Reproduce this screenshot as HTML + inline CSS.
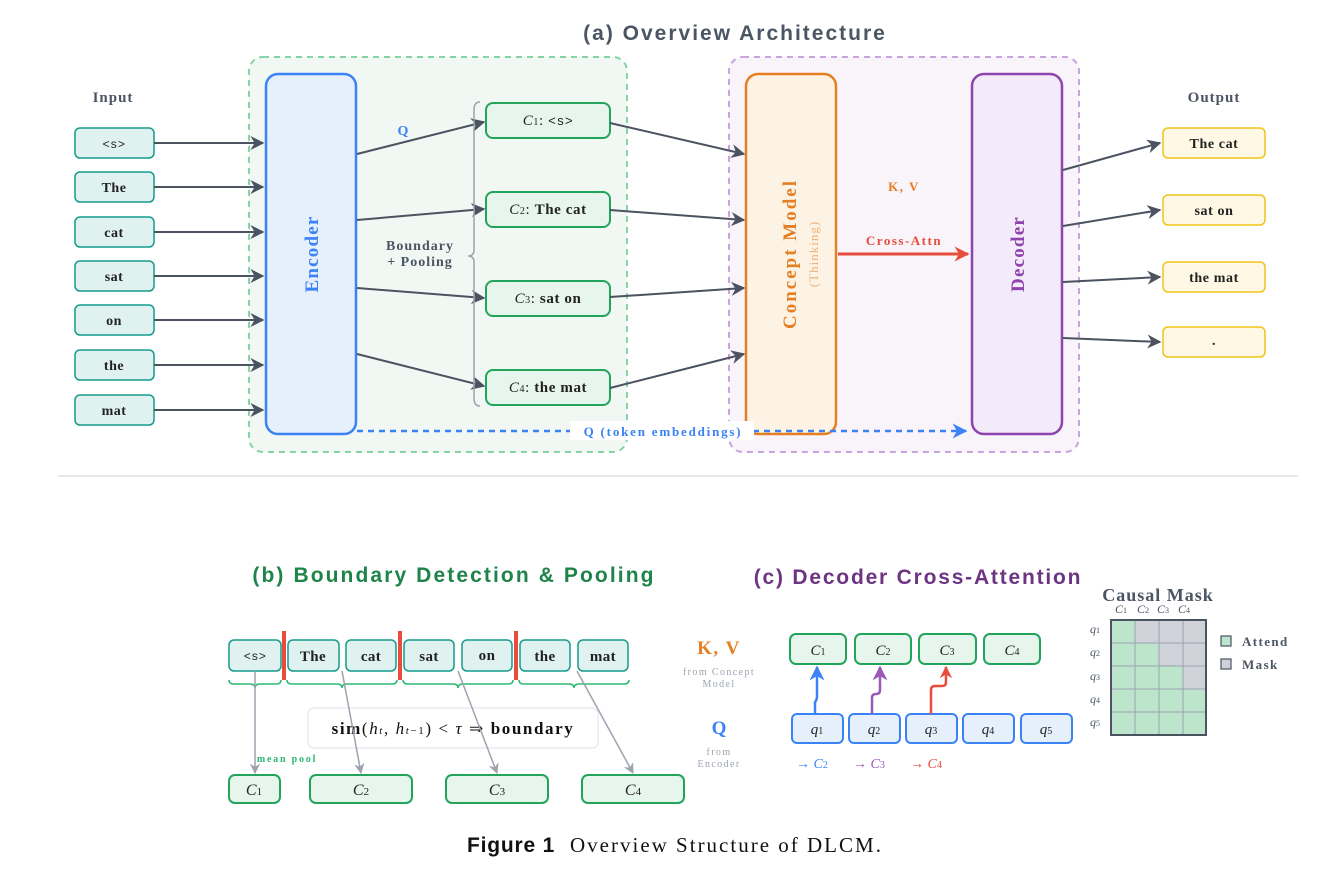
<!DOCTYPE html>
<html><head><meta charset="utf-8"><style>
html,body{margin:0;padding:0;background:#fff}
svg{display:block}
.s{font-family:"Liberation Serif",serif}
.ss{font-family:"Liberation Sans",sans-serif}
.m{font-family:"Liberation Mono",monospace}
</style></head><body>
<svg width="1344" height="872" viewBox="0 0 1344 872" xmlns="http://www.w3.org/2000/svg">
<defs>
<marker id="ag" viewBox="0 0 10 10" refX="9" refY="5" markerWidth="7" markerHeight="7" orient="auto"><path d="M0,0 L10,5 L0,10 L3,5 z" fill="#4b5260"/></marker>
<marker id="agl" viewBox="0 0 10 10" refX="9" refY="5" markerWidth="7" markerHeight="7" orient="auto"><path d="M0,0 L10,5 L0,10 L3,5 z" fill="#9ca3af"/></marker>
<marker id="ar" viewBox="0 0 10 10" refX="9" refY="5" markerWidth="5" markerHeight="5" orient="auto"><path d="M0,0 L10,5 L0,10 L3,5 z" fill="#e74c3c"/></marker>
<marker id="ab" viewBox="0 0 10 10" refX="9" refY="5" markerWidth="6" markerHeight="6" orient="auto"><path d="M0,0 L10,5 L0,10 L3,5 z" fill="#3b82f6"/></marker>
<marker id="ap" viewBox="0 0 10 10" refX="9" refY="5" markerWidth="6" markerHeight="6" orient="auto"><path d="M0,0 L10,5 L0,10 L3,5 z" fill="#9b59b6"/></marker>
</defs>

<text x="735" y="40" text-anchor="middle" class="ss" font-weight="bold" font-size="21" letter-spacing="2" fill="#4b5563">(a) Overview Architecture</text>

<rect x="249" y="57" width="378" height="395" rx="14" fill="#f1f8f4" stroke="#86d3a6" stroke-width="2" stroke-dasharray="6,5"/>
<rect x="729" y="57" width="350" height="395" rx="14" fill="#f9f3fa" stroke="#c9a3dd" stroke-width="2" stroke-dasharray="6,5"/>

<text x="113" y="102" text-anchor="middle" class="s" font-weight="bold" font-size="15" letter-spacing="1" fill="#4b5563">Input</text>
<g class="s" font-weight="bold" font-size="14" letter-spacing="0.5" fill="#222" text-anchor="middle">
<rect x="75" y="128" width="79" height="30" rx="5" fill="#dff2f0" stroke="#179a8a" stroke-width="1.5"/><text x="114" y="148" class="m" font-size="12" font-weight="normal">&lt;s&gt;</text>
<rect x="75" y="172" width="79" height="30" rx="5" fill="#dff2f0" stroke="#179a8a" stroke-width="1.5"/><text x="114" y="192">The</text>
<rect x="75" y="217" width="79" height="30" rx="5" fill="#dff2f0" stroke="#179a8a" stroke-width="1.5"/><text x="114" y="237">cat</text>
<rect x="75" y="261" width="79" height="30" rx="5" fill="#dff2f0" stroke="#179a8a" stroke-width="1.5"/><text x="114" y="281">sat</text>
<rect x="75" y="305" width="79" height="30" rx="5" fill="#dff2f0" stroke="#179a8a" stroke-width="1.5"/><text x="114" y="325">on</text>
<rect x="75" y="350" width="79" height="30" rx="5" fill="#dff2f0" stroke="#179a8a" stroke-width="1.5"/><text x="114" y="370">the</text>
<rect x="75" y="395" width="79" height="30" rx="5" fill="#dff2f0" stroke="#179a8a" stroke-width="1.5"/><text x="114" y="415">mat</text>
</g>
<g stroke="#4b5260" stroke-width="2" marker-end="url(#ag)">
<line x1="154" y1="143" x2="263" y2="143"/><line x1="154" y1="187" x2="263" y2="187"/><line x1="154" y1="232" x2="263" y2="232"/><line x1="154" y1="276" x2="263" y2="276"/><line x1="154" y1="320" x2="263" y2="320"/><line x1="154" y1="365" x2="263" y2="365"/><line x1="154" y1="410" x2="263" y2="410"/>
</g>

<rect x="266" y="74" width="90" height="360" rx="12" fill="#e6f0fd" stroke="#3b82f6" stroke-width="2.5"/>
<text transform="translate(318,254) rotate(-90)" text-anchor="middle" class="s" font-weight="bold" font-size="19" letter-spacing="1.2" fill="#3b82f6">Encoder</text>

<g stroke="#4b5260" stroke-width="2" marker-end="url(#ag)">
<line x1="357" y1="154" x2="484" y2="122"/><line x1="357" y1="220" x2="484" y2="209"/><line x1="357" y1="288" x2="484" y2="298"/><line x1="357" y1="354" x2="484" y2="386"/>
</g>
<text x="403" y="135" text-anchor="middle" class="s" font-weight="bold" font-size="14" fill="#3b82f6">Q</text>
<path d="M480,102 Q474,102 474,110 L474,250 Q474,256 468,256 Q474,256 474,262 L474,398 Q474,406 480,406" fill="none" stroke="#9ca3af" stroke-width="1.5"/>
<text x="420" y="250" text-anchor="middle" class="s" font-weight="bold" font-size="14" letter-spacing="1" fill="#4b5563">Boundary</text>
<text x="420" y="266" text-anchor="middle" class="s" font-weight="bold" font-size="14" letter-spacing="1" fill="#4b5563">+ Pooling</text>

<g class="s" font-size="15" text-anchor="middle" fill="#222" letter-spacing="0.6">
<rect x="486" y="103" width="124" height="35" rx="7" fill="#e7f6ec" stroke="#22a55a" stroke-width="2"/><text x="548" y="125"><tspan font-style="italic">C</tspan><tspan font-size="10">1</tspan>: <tspan class="m" font-size="13">&lt;s&gt;</tspan></text>
<rect x="486" y="192" width="124" height="35" rx="7" fill="#e7f6ec" stroke="#22a55a" stroke-width="2"/><text x="548" y="214"><tspan font-style="italic">C</tspan><tspan font-size="10">2</tspan>: <tspan font-weight="bold">The cat</tspan></text>
<rect x="486" y="281" width="124" height="35" rx="7" fill="#e7f6ec" stroke="#22a55a" stroke-width="2"/><text x="548" y="303"><tspan font-style="italic">C</tspan><tspan font-size="10">3</tspan>: <tspan font-weight="bold">sat on</tspan></text>
<rect x="486" y="370" width="124" height="35" rx="7" fill="#e7f6ec" stroke="#22a55a" stroke-width="2"/><text x="548" y="392"><tspan font-style="italic">C</tspan><tspan font-size="10">4</tspan>: <tspan font-weight="bold">the mat</tspan></text>
</g>
<g stroke="#4b5260" stroke-width="2" marker-end="url(#ag)">
<line x1="610" y1="123" x2="744" y2="154"/><line x1="610" y1="210" x2="744" y2="220"/><line x1="610" y1="297" x2="744" y2="288"/><line x1="610" y1="388" x2="744" y2="354"/>
</g>

<rect x="746" y="74" width="90" height="360" rx="12" fill="#fdf3e4" stroke="#e67e22" stroke-width="2.5"/>
<text transform="translate(796,254) rotate(-90)" text-anchor="middle" class="s" font-weight="bold" font-size="19" letter-spacing="2" fill="#e67e22">Concept Model</text>
<text transform="translate(818,254) rotate(-90)" text-anchor="middle" class="s" font-size="13" letter-spacing="1" fill="#f0b27a">(Thinking)</text>

<text x="904" y="191" text-anchor="middle" class="s" font-weight="bold" font-size="13" letter-spacing="1.5" fill="#e67e22">K, V</text>
<text x="904" y="245" text-anchor="middle" class="s" font-weight="bold" font-size="13" letter-spacing="1.5" fill="#e74c3c">Cross-Attn</text>
<line x1="838" y1="254" x2="968" y2="254" stroke="#e74c3c" stroke-width="3" marker-end="url(#ar)"/>

<rect x="972" y="74" width="90" height="360" rx="12" fill="#f3eafa" stroke="#8e44ad" stroke-width="2.5"/>
<text transform="translate(1024,254) rotate(-90)" text-anchor="middle" class="s" font-weight="bold" font-size="19" letter-spacing="1.2" fill="#8e44ad">Decoder</text>

<text x="1214" y="102" text-anchor="middle" class="s" font-weight="bold" font-size="15" letter-spacing="1" fill="#4b5563">Output</text>
<g class="s" font-weight="bold" font-size="14" letter-spacing="0.6" fill="#222" text-anchor="middle">
<rect x="1163" y="128" width="102" height="30" rx="5" fill="#fef8e4" stroke="#f0c419" stroke-width="1.5"/><text x="1214" y="148">The cat</text>
<rect x="1163" y="195" width="102" height="30" rx="5" fill="#fef8e4" stroke="#f0c419" stroke-width="1.5"/><text x="1214" y="215">sat on</text>
<rect x="1163" y="262" width="102" height="30" rx="5" fill="#fef8e4" stroke="#f0c419" stroke-width="1.5"/><text x="1214" y="282">the mat</text>
<rect x="1163" y="327" width="102" height="30" rx="5" fill="#fef8e4" stroke="#f0c419" stroke-width="1.5"/><text x="1214" y="345">.</text>
</g>
<g stroke="#4b5260" stroke-width="2" marker-end="url(#ag)">
<line x1="1063" y1="170" x2="1160" y2="143"/><line x1="1063" y1="226" x2="1160" y2="210"/><line x1="1063" y1="282" x2="1160" y2="277"/><line x1="1063" y1="338" x2="1160" y2="342"/>
</g>

<line x1="357" y1="431" x2="966" y2="431" stroke="#3b82f6" stroke-width="2.5" stroke-dasharray="6,5" marker-end="url(#ab)"/>
<rect x="570" y="421" width="184" height="19" fill="#fff"/>
<text x="663" y="436" text-anchor="middle" class="s" font-weight="bold" font-size="13" letter-spacing="1.8" fill="#3b82f6">Q (token embeddings)</text>

<line x1="58" y1="476" x2="1298" y2="476" stroke="#e5e7eb" stroke-width="2"/>

<!-- (b) -->
<text x="454" y="582" text-anchor="middle" class="ss" font-weight="bold" font-size="21" letter-spacing="2.1" fill="#1e8449">(b) Boundary Detection &amp; Pooling</text>
<g class="s" font-weight="bold" font-size="15" letter-spacing="0.4" fill="#222" text-anchor="middle">
<rect x="229" y="640" width="52" height="31" rx="5" fill="#dff2f0" stroke="#179a8a" stroke-width="1.5"/><text x="255" y="660" class="m" font-size="12" font-weight="normal">&lt;s&gt;</text>
<rect x="288" y="640" width="51" height="31" rx="5" fill="#dff2f0" stroke="#179a8a" stroke-width="1.5"/><text x="313" y="661">The</text>
<rect x="346" y="640" width="50" height="31" rx="5" fill="#dff2f0" stroke="#179a8a" stroke-width="1.5"/><text x="371" y="661">cat</text>
<rect x="404" y="640" width="50" height="31" rx="5" fill="#dff2f0" stroke="#179a8a" stroke-width="1.5"/><text x="429" y="661">sat</text>
<rect x="462" y="640" width="50" height="31" rx="5" fill="#dff2f0" stroke="#179a8a" stroke-width="1.5"/><text x="487" y="660">on</text>
<rect x="520" y="640" width="50" height="31" rx="5" fill="#dff2f0" stroke="#179a8a" stroke-width="1.5"/><text x="545" y="661">the</text>
<rect x="578" y="640" width="50" height="31" rx="5" fill="#dff2f0" stroke="#179a8a" stroke-width="1.5"/><text x="603" y="661">mat</text>
</g>
<g fill="#e74c3c"><rect x="282" y="631" width="4" height="49"/><rect x="398" y="631" width="4" height="49"/><rect x="514" y="631" width="4" height="49"/></g>
<g fill="none" stroke="#2eb872" stroke-width="1.5">
<path d="M229,680 Q229,684 234,684 L250,684 Q255,684 255,688 Q255,684 260,684 L276,684 Q281,684 281,680"/>
<path d="M287,680 Q287,684 292,684 L337,684 Q342,684 342,688 Q342,684 347,684 L392,684 Q397,684 397,680"/>
<path d="M403,680 Q403,684 408,684 L453,684 Q458,684 458,688 Q458,684 463,684 L508,684 Q513,684 513,680"/>
<path d="M519,680 Q519,684 524,684 L569,684 Q574,684 574,688 Q574,684 579,684 L624,684 Q629,684 629,680"/>
</g>
<rect x="308" y="708" width="290" height="40" rx="6" fill="#fff" stroke="#e5e7eb" stroke-width="1.2"/>
<text x="453" y="734" text-anchor="middle" class="s" font-size="17" letter-spacing="1.6" fill="#111"><tspan font-weight="bold">sim</tspan>(<tspan font-style="italic">h</tspan><tspan font-size="11" font-style="italic">t</tspan>, <tspan font-style="italic">h</tspan><tspan font-size="11" font-style="italic">t</tspan><tspan font-size="11">−1</tspan>) &lt; <tspan font-style="italic">τ</tspan> ⇒ <tspan font-weight="bold">boundary</tspan></text>
<g stroke="#9ca3af" stroke-width="1.5" marker-end="url(#agl)">
<line x1="255" y1="671" x2="255" y2="773"/><line x1="342" y1="671" x2="361" y2="773"/><line x1="458" y1="671" x2="497" y2="773"/><line x1="577" y1="671" x2="633" y2="773"/>
</g>
<text x="287" y="762" text-anchor="middle" class="s" font-weight="bold" font-size="10" letter-spacing="1.8" fill="#2eb872">mean pool</text>
<g class="s" font-style="italic" font-size="16" fill="#222" text-anchor="middle">
<rect x="229" y="775" width="51" height="28" rx="6" fill="#e7f6ec" stroke="#22a55a" stroke-width="2"/><text x="254" y="795">C<tspan font-size="11" font-style="normal">1</tspan></text>
<rect x="310" y="775" width="102" height="28" rx="6" fill="#e7f6ec" stroke="#22a55a" stroke-width="2"/><text x="361" y="795">C<tspan font-size="11" font-style="normal">2</tspan></text>
<rect x="446" y="775" width="102" height="28" rx="6" fill="#e7f6ec" stroke="#22a55a" stroke-width="2"/><text x="497" y="795">C<tspan font-size="11" font-style="normal">3</tspan></text>
<rect x="582" y="775" width="102" height="28" rx="6" fill="#e7f6ec" stroke="#22a55a" stroke-width="2"/><text x="633" y="795">C<tspan font-size="11" font-style="normal">4</tspan></text>
</g>

<!-- (c) -->
<text x="918" y="584" text-anchor="middle" class="ss" font-weight="bold" font-size="21" letter-spacing="1.8" fill="#6c3483">(c) Decoder Cross-Attention</text>
<text x="719" y="654" text-anchor="middle" class="s" font-weight="bold" font-size="19" letter-spacing="1.5" fill="#e67e22">K, V</text>
<text x="719" y="675" text-anchor="middle" class="s" font-size="10" letter-spacing="1.4" fill="#9ca3af">from Concept</text>
<text x="719" y="687" text-anchor="middle" class="s" font-size="10" letter-spacing="1.4" fill="#9ca3af">Model</text>
<text x="719" y="734" text-anchor="middle" class="s" font-weight="bold" font-size="19" fill="#3b82f6">Q</text>
<text x="719" y="755" text-anchor="middle" class="s" font-size="10" letter-spacing="1.4" fill="#9ca3af">from</text>
<text x="719" y="767" text-anchor="middle" class="s" font-size="10" letter-spacing="1.4" fill="#9ca3af">Encoder</text>
<g class="s" font-style="italic" font-size="15" fill="#222" text-anchor="middle">
<rect x="790" y="634" width="56" height="30" rx="6" fill="#e7f6ec" stroke="#22a55a" stroke-width="2"/><text x="818" y="655">C<tspan font-size="10" font-style="normal">1</tspan></text>
<rect x="855" y="634" width="56" height="30" rx="6" fill="#e7f6ec" stroke="#22a55a" stroke-width="2"/><text x="883" y="655">C<tspan font-size="10" font-style="normal">2</tspan></text>
<rect x="919" y="634" width="57" height="30" rx="6" fill="#e7f6ec" stroke="#22a55a" stroke-width="2"/><text x="947" y="655">C<tspan font-size="10" font-style="normal">3</tspan></text>
<rect x="984" y="634" width="56" height="30" rx="6" fill="#e7f6ec" stroke="#22a55a" stroke-width="2"/><text x="1012" y="655">C<tspan font-size="10" font-style="normal">4</tspan></text>
<rect x="792" y="714" width="51" height="29" rx="5" fill="#e6f0fd" stroke="#3b82f6" stroke-width="2"/><text x="817" y="734">q<tspan font-size="10" font-style="normal">1</tspan></text>
<rect x="849" y="714" width="51" height="29" rx="5" fill="#e6f0fd" stroke="#3b82f6" stroke-width="2"/><text x="874" y="734">q<tspan font-size="10" font-style="normal">2</tspan></text>
<rect x="906" y="714" width="51" height="29" rx="5" fill="#e6f0fd" stroke="#3b82f6" stroke-width="2"/><text x="931" y="734">q<tspan font-size="10" font-style="normal">3</tspan></text>
<rect x="963" y="714" width="51" height="29" rx="5" fill="#e6f0fd" stroke="#3b82f6" stroke-width="2"/><text x="988" y="734">q<tspan font-size="10" font-style="normal">4</tspan></text>
<rect x="1021" y="714" width="51" height="29" rx="5" fill="#e6f0fd" stroke="#3b82f6" stroke-width="2"/><text x="1046" y="734">q<tspan font-size="10" font-style="normal">5</tspan></text>
</g>
<path d="M815,714 L815,702 Q817,700 817,696 L817,667" fill="none" stroke="#3b82f6" stroke-width="2.5" marker-end="url(#ab)"/>
<path d="M872,714 L872,698 Q872,694 876,694 Q880,694 880,690 L880,667" fill="none" stroke="#9b59b6" stroke-width="2.5" marker-end="url(#ap)"/>
<path d="M931,714 L931,690 Q931,686 935,686 L942,686 Q946,686 946,682 L946,667" fill="none" stroke="#e74c3c" stroke-width="2.5" marker-end="url(#ar)"/>
<g class="s" font-size="14" font-style="italic">
<text x="796" y="768" fill="#3b82f6">→ C<tspan font-size="10" font-style="normal">2</tspan></text>
<text x="853" y="768" fill="#9b59b6">→ C<tspan font-size="10" font-style="normal">3</tspan></text>
<text x="910" y="768" fill="#e74c3c">→ C<tspan font-size="10" font-style="normal">4</tspan></text>
</g>

<text x="1158" y="601" text-anchor="middle" class="s" font-weight="bold" font-size="18" letter-spacing="1" fill="#4b5563">Causal Mask</text>
<g class="s" font-style="italic" font-size="12" fill="#4b5563" text-anchor="middle">
<text x="1121" y="613">C<tspan font-size="8" font-style="normal">1</tspan></text><text x="1143" y="613">C<tspan font-size="8" font-style="normal">2</tspan></text><text x="1163" y="613">C<tspan font-size="8" font-style="normal">3</tspan></text><text x="1184" y="613">C<tspan font-size="8" font-style="normal">4</tspan></text>
<text x="1095" y="633">q<tspan font-size="8" font-style="normal">1</tspan></text><text x="1095" y="656">q<tspan font-size="8" font-style="normal">2</tspan></text><text x="1095" y="680">q<tspan font-size="8" font-style="normal">3</tspan></text><text x="1095" y="703">q<tspan font-size="8" font-style="normal">4</tspan></text><text x="1095" y="726">q<tspan font-size="8" font-style="normal">5</tspan></text>
</g>
<g stroke="#9ca3af" stroke-width="1">
<rect x="1111" y="620" width="24" height="23" fill="#bde5cc"/><rect x="1135" y="620" width="24" height="23" fill="#cfd2d8"/><rect x="1159" y="620" width="24" height="23" fill="#cfd2d8"/><rect x="1183" y="620" width="23" height="23" fill="#cfd2d8"/>
<rect x="1111" y="643" width="24" height="23" fill="#bde5cc"/><rect x="1135" y="643" width="24" height="23" fill="#bde5cc"/><rect x="1159" y="643" width="24" height="23" fill="#cfd2d8"/><rect x="1183" y="643" width="23" height="23" fill="#cfd2d8"/>
<rect x="1111" y="666" width="24" height="23" fill="#bde5cc"/><rect x="1135" y="666" width="24" height="23" fill="#bde5cc"/><rect x="1159" y="666" width="24" height="23" fill="#bde5cc"/><rect x="1183" y="666" width="23" height="23" fill="#cfd2d8"/>
<rect x="1111" y="689" width="24" height="23" fill="#bde5cc"/><rect x="1135" y="689" width="24" height="23" fill="#bde5cc"/><rect x="1159" y="689" width="24" height="23" fill="#bde5cc"/><rect x="1183" y="689" width="23" height="23" fill="#bde5cc"/>
<rect x="1111" y="712" width="24" height="23" fill="#bde5cc"/><rect x="1135" y="712" width="24" height="23" fill="#bde5cc"/><rect x="1159" y="712" width="24" height="23" fill="#bde5cc"/><rect x="1183" y="712" width="23" height="23" fill="#bde5cc"/>
</g>
<rect x="1111" y="620" width="95" height="115" fill="none" stroke="#4b5260" stroke-width="2"/>
<rect x="1221" y="636" width="10" height="10" fill="#bde5cc" stroke="#4b5260" stroke-width="1.2"/>
<rect x="1221" y="659" width="10" height="10" fill="#cfd2d8" stroke="#4b5260" stroke-width="1.2"/>
<text x="1242" y="646" class="s" font-weight="bold" font-size="13" letter-spacing="1.4" fill="#4b5563">Attend</text>
<text x="1242" y="669" class="s" font-weight="bold" font-size="13" letter-spacing="1.4" fill="#4b5563">Mask</text>

<text x="467" y="852" class="ss" font-weight="bold" font-size="21" letter-spacing="0.8" fill="#111">Figure 1</text>
<text x="570" y="852" class="s" font-size="21" letter-spacing="2" fill="#111">Overview Structure of DLCM.</text>
</svg>
</body></html>
